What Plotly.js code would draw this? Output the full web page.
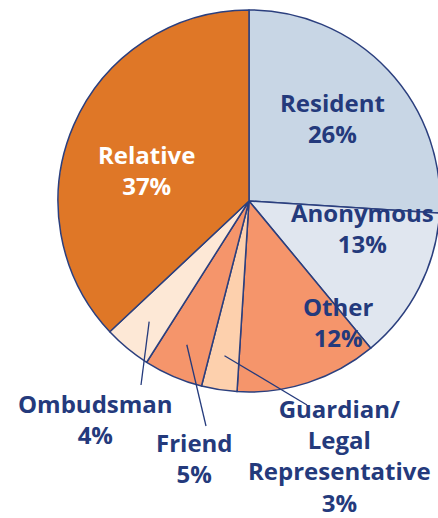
<!DOCTYPE html>
<html>
<head>
<meta charset="utf-8">
<script src="https://cdn.plot.ly/plotly-3.0.1.min.js"></script>
<style>
html, body { margin: 0; padding: 0; overflow: hidden; background: #fff; }
#chart { width: 442px; height: 518px; }
</style>
</head>
<body>
<div id="chart"></div>
<script>
// ---- data ----
var categories = ["Resident", "Anonymous", "Other", "Guardian/<br>Legal<br>Representative", "Friend", "Ombudsman", "Relative"];
var percents = [26, 13, 12, 3, 5, 4, 37];
var sliceColors = ["#c8d6e5", "#e0e6ef", "#f5956b", "#fdd0ad", "#f5956b", "#fde8d6", "#df7727"];

// ---- layout geometry (pixels) ----
var W = 442, H = 518;
var cx = 249, cy = 201, R = 191;
var navy = "#243a7c";
// label centres (px) for each category, and where outside leader lines end
var labelPos = [[332, 118], [362, 228], [338, 322], [339, 455], [194, 458], [95, 419], [146, 170]];
var leaderEnd = [null, null, null, [307, 405], [206, 426], [141, 385], null];

function px2paperX(x) { return x / W; }
function px2paperY(y) { return 1 - y / H; }

var annotations = [];
var shapes = [];
var total = percents.reduce(function (a, b) { return a + b; }, 0);
var cum = 0;
for (var i = 0; i < categories.length; i++) {
  var mid = (cum + percents[i] / 2) / total * 2 * Math.PI;
  cum += percents[i];
  annotations.push({
    x: px2paperX(labelPos[i][0]), y: px2paperY(labelPos[i][1]),
    xref: "paper", yref: "paper", xanchor: "center", yanchor: "middle",
    showarrow: false,
    text: "<b>" + categories[i] + "<br>" + percents[i] + "%</b>",
    font: { family: "Open Sans, sans-serif", size: 24, color: i === 6 ? "#ffffff" : navy }
  });
  if (leaderEnd[i]) {
    var r0 = 0.82 * R;
    var x0 = cx + r0 * Math.sin(mid), y0 = cy - r0 * Math.cos(mid);
    shapes.push({
      type: "line", xref: "paper", yref: "paper",
      x0: px2paperX(x0), y0: px2paperY(y0),
      x1: px2paperX(leaderEnd[i][0]), y1: px2paperY(leaderEnd[i][1]),
      line: { color: navy, width: 1.3 }
    });
  }
}

var trace = {
  type: "pie",
  labels: categories,
  values: percents,
  sort: false,
  direction: "clockwise",
  rotation: 0,
  textinfo: "none",
  hoverinfo: "none",
  marker: { colors: sliceColors, line: { color: "#2b3f7e", width: 1.5 } },
  domain: {
    x: [px2paperX(cx - R), px2paperX(cx + R)],
    y: [px2paperY(cy + R), px2paperY(cy - R)]
  }
};

var layout = {
  width: W, height: H,
  margin: { l: 0, r: 0, t: 0, b: 0 },
  showlegend: false,
  paper_bgcolor: "#ffffff",
  annotations: annotations,
  shapes: shapes
};

Plotly.newPlot("chart", [trace], layout, { staticPlot: true, displayModeBar: false });
</script>
</body>
</html>
